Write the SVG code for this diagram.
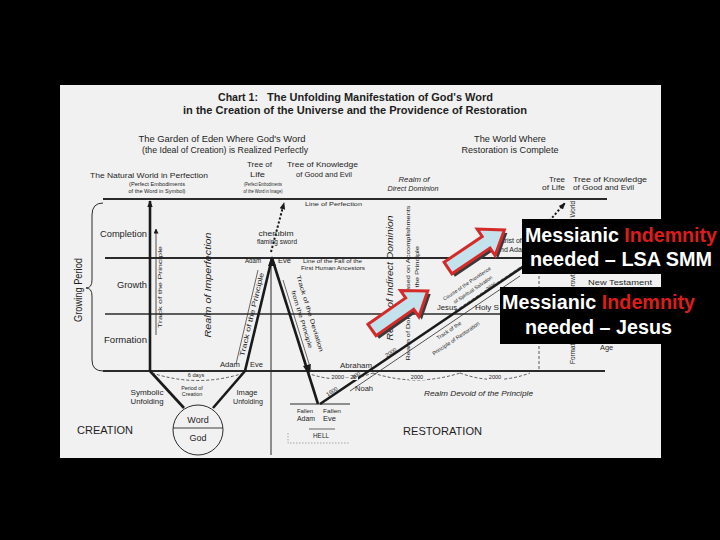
<svg xmlns="http://www.w3.org/2000/svg" width="720" height="540" viewBox="0 0 720 540">
<defs>
<style>
.t{font-family:"Liberation Sans",Arial,sans-serif;fill:#1e1e1e}
.i{font-style:italic}
.b{font-weight:bold}
.ln{stroke:#2a2a2a;fill:none}
.thk{stroke:#1a1a1a;stroke-width:2.6;fill:none}
.dash{stroke:#333;stroke-width:0.8;fill:none;stroke-dasharray:3 2}
.dot{stroke:#1a1a1a;stroke-width:2;fill:none;stroke-dasharray:2.2 2}
.bx{fill:#000}
.w{font-family:"Liberation Sans",Arial,sans-serif;font-weight:bold;font-size:19.5px;fill:#fff}
.r{fill:#dd1c1c}
.arr{fill:#c4e2ec;stroke:#d42a2a;stroke-width:3;stroke-linejoin:miter}
.sh{fill:#3a3a3a}
</style>
<marker id="ah" viewBox="0 0 10 10" refX="9" refY="5" markerWidth="5" markerHeight="5" orient="auto" markerUnits="userSpaceOnUse">
<path d="M0,0 L10,5 L0,10 z" fill="#1a1a1a"/>
</marker>
<marker id="ahs" viewBox="0 0 10 10" refX="9" refY="5" markerWidth="7" markerHeight="7" orient="auto" markerUnits="userSpaceOnUse">
<path d="M0,1 L10,5 L0,9 z" fill="#1a1a1a"/>
</marker>
<path id="blk" d="M0,-7 L46,-7 L46,-16 L68,0 L46,16 L46,7 L0,7 Z"/>
</defs>
<rect width="720" height="540" fill="#000"/>
<rect x="60" y="85" width="601" height="373" fill="#f1f1f1"/>

<g id="title">
<text class="t b" x="218" y="101" font-size="10.5" textLength="40" lengthAdjust="spacingAndGlyphs">Chart 1:</text>
<text class="t b" x="267" y="101" font-size="10.5" textLength="226" lengthAdjust="spacingAndGlyphs">The Unfolding Manifestation of God's Word</text>
<text class="t b" x="183" y="114" font-size="10.5" textLength="344" lengthAdjust="spacingAndGlyphs">in the Creation of the Universe and the Providence of Restoration</text>
</g>

<g id="top-labels">
<text class="t" x="222" y="142" font-size="8.2" text-anchor="middle" textLength="167" lengthAdjust="spacingAndGlyphs">The Garden of Eden Where God's Word</text>
<text class="t" x="225" y="153" font-size="8.2" text-anchor="middle" textLength="166" lengthAdjust="spacingAndGlyphs">(the Ideal of Creation) is Realized Perfectly</text>
<text class="t" x="510" y="142" font-size="8.2" text-anchor="middle" textLength="72" lengthAdjust="spacingAndGlyphs">The World Where</text>
<text class="t" x="510" y="153" font-size="8.2" text-anchor="middle" textLength="97" lengthAdjust="spacingAndGlyphs">Restoration is Complete</text>
<text class="t" x="90" y="178" font-size="7.6" textLength="118" lengthAdjust="spacingAndGlyphs">The Natural World in Perfection</text>
<text class="t" x="157" y="186" font-size="5.4" text-anchor="middle" textLength="56" lengthAdjust="spacingAndGlyphs">(Perfect Embodiments</text>
<text class="t" x="157" y="193" font-size="5.4" text-anchor="middle" textLength="57" lengthAdjust="spacingAndGlyphs">of the Word in Symbol)</text>
<text class="t" x="247" y="167" font-size="7.6" textLength="25" lengthAdjust="spacingAndGlyphs">Tree of</text>
<text class="t" x="250" y="177" font-size="7.6" textLength="15" lengthAdjust="spacingAndGlyphs">Life</text>
<text class="t" x="287" y="167" font-size="7.6" textLength="71" lengthAdjust="spacingAndGlyphs">Tree of Knowledge</text>
<text class="t" x="296" y="177" font-size="7.6" textLength="56" lengthAdjust="spacingAndGlyphs">of Good and Evil</text>
<text class="t" x="263" y="186" font-size="5.4" text-anchor="middle" textLength="38" lengthAdjust="spacingAndGlyphs">(Perfect Embodiments</text>
<text class="t" x="263" y="193" font-size="5.4" text-anchor="middle" textLength="39" lengthAdjust="spacingAndGlyphs">of the Word in Image)</text>
<text class="t i" x="414" y="182" font-size="7.8" text-anchor="middle" textLength="31" lengthAdjust="spacingAndGlyphs">Realm of</text>
<text class="t i" x="413" y="191" font-size="7.8" text-anchor="middle" textLength="51" lengthAdjust="spacingAndGlyphs">Direct Dominion</text>
<text class="t" x="565" y="182" font-size="7.4" text-anchor="end" textLength="16" lengthAdjust="spacingAndGlyphs">Tree</text>
<text class="t" x="565" y="190" font-size="7.4" text-anchor="end" textLength="23" lengthAdjust="spacingAndGlyphs">of Life</text>
<text class="t" x="573" y="182" font-size="7.4" textLength="74" lengthAdjust="spacingAndGlyphs">Tree of Knowledge</text>
<text class="t" x="573" y="190" font-size="7.4" textLength="61" lengthAdjust="spacingAndGlyphs">of Good and Evil</text>
<text class="t" x="305" y="206" font-size="5.8" textLength="57" lengthAdjust="spacingAndGlyphs">Line of Perfection</text>
</g>

<g id="grid">
<line class="ln" x1="103" y1="199" x2="607" y2="199" stroke-width="2"/>
<line class="ln" x1="105" y1="258" x2="605" y2="258" stroke-width="1.8"/>
<line class="ln" x1="105" y1="314" x2="605" y2="314" stroke-width="1.6"/>
<line class="ln" x1="103" y1="371" x2="605" y2="371" stroke-width="2"/>
<path class="ln" stroke-width="1" d="M103,203 Q92,203 92,215 L92,280 Q92,288 86,288 Q92,288 92,296 L92,360 Q92,371 103,371"/>
<line class="ln" x1="271" y1="258" x2="271" y2="455" stroke-width="1"/>
<line class="dash" x1="539" y1="226" x2="539" y2="371"/>
</g>

<g id="left-labels">
<text class="t" x="82" y="290" font-size="10" text-anchor="middle" transform="rotate(-90 82 290)" textLength="64" lengthAdjust="spacingAndGlyphs">Growing Period</text>
<text class="t" x="100" y="237" font-size="8.8" textLength="47" lengthAdjust="spacingAndGlyphs">Completion</text>
<text class="t" x="117" y="288" font-size="8.8" textLength="30" lengthAdjust="spacingAndGlyphs">Growth</text>
<text class="t" x="104" y="343" font-size="8.8" textLength="43" lengthAdjust="spacingAndGlyphs">Formation</text>
<text class="t" x="162" y="287" font-size="6" text-anchor="middle" transform="rotate(-90 162 287)" textLength="82" lengthAdjust="spacingAndGlyphs">Track of the Principle</text>
<text class="t i" x="211" y="285" font-size="9" text-anchor="middle" transform="rotate(-90 211 285)" textLength="105" lengthAdjust="spacingAndGlyphs">Realm of Imperfection</text>
</g>

<g id="creation">
<line class="thk" x1="150" y1="371" x2="150" y2="201" marker-end="url(#ahs)"/>
<line class="ln" x1="156" y1="335" x2="156" y2="229" stroke-width="0.8" marker-end="url(#ah)"/>
<line class="thk" x1="272" y1="258" x2="245" y2="371"/>
<line class="thk" x1="245" y1="371" x2="213" y2="408"/>
<line class="thk" x1="150" y1="371" x2="184" y2="408"/>
<line class="thk" x1="272" y1="258" x2="318" y2="404"/>
<path d="M272,256 L268,266 L276,266 Z" fill="#1a1a1a"/>
<path d="M309,375 L303,366 L311,364 Z" fill="#1a1a1a"/>
<line class="dot" x1="271" y1="252" x2="284" y2="203" marker-end="url(#ahs)"/>
<line class="ln" x1="258" y1="270" x2="236" y2="364" stroke-width="0.7"/>
<line class="ln" x1="283" y1="280" x2="311" y2="370" stroke-width="0.7"/>
<text class="t" x="276" y="236" font-size="6.8" text-anchor="middle" textLength="35" lengthAdjust="spacingAndGlyphs">cherubim</text>
<text class="t" x="277" y="244" font-size="6.8" text-anchor="middle" textLength="40" lengthAdjust="spacingAndGlyphs">flaming sword</text>
<text class="t" x="245" y="263" font-size="7.6" textLength="16" lengthAdjust="spacingAndGlyphs">Adam</text>
<text class="t" x="278" y="263" font-size="7.6" textLength="13" lengthAdjust="spacingAndGlyphs">Eve</text>
<text class="t" x="303" y="263" font-size="5.5" textLength="59" lengthAdjust="spacingAndGlyphs">Line of the Fall of the</text>
<text class="t" x="301" y="270" font-size="5.5" textLength="64" lengthAdjust="spacingAndGlyphs">First Human Ancestors</text>
<text class="t" x="254" y="315" font-size="6.8" text-anchor="middle" transform="rotate(-76.6 254 315)" textLength="86" lengthAdjust="spacingAndGlyphs">Track of the Principle</text>
<text class="t" x="308" y="314" font-size="6" text-anchor="middle" transform="rotate(73 308 314)" textLength="80" lengthAdjust="spacingAndGlyphs">Track of the Deviation</text>
<text class="t" x="300" y="320" font-size="6" text-anchor="middle" transform="rotate(73 300 320)" textLength="60" lengthAdjust="spacingAndGlyphs">from the Principle</text>
<text class="t" x="220" y="367" font-size="7.6" textLength="20" lengthAdjust="spacingAndGlyphs">Adam</text>
<text class="t" x="250" y="367" font-size="7.6" textLength="13" lengthAdjust="spacingAndGlyphs">Eve</text>
<path class="dash" d="M152,373 Q198,388 244,373"/>
<rect x="184" y="372" width="24" height="7" fill="#f1f1f1"/>
<text class="t" x="196" y="377" font-size="5.6" text-anchor="middle">6 days</text>
<text class="t" x="192" y="390" font-size="5.4" text-anchor="middle">Period of</text>
<text class="t" x="192" y="396" font-size="5.4" text-anchor="middle">Creation</text>
<text class="t" x="147" y="395" font-size="7.6" text-anchor="middle" textLength="33" lengthAdjust="spacingAndGlyphs">Symbolic</text>
<text class="t" x="147" y="404" font-size="7.6" text-anchor="middle" textLength="33" lengthAdjust="spacingAndGlyphs">Unfolding</text>
<text class="t" x="247" y="395" font-size="7.6" text-anchor="middle" textLength="21" lengthAdjust="spacingAndGlyphs">Image</text>
<text class="t" x="248" y="404" font-size="7.6" text-anchor="middle" textLength="30" lengthAdjust="spacingAndGlyphs">Unfolding</text>
<text class="t" x="77" y="434" font-size="10.5" textLength="56" lengthAdjust="spacingAndGlyphs">CREATION</text>
</g>

<g id="word-god">
<circle cx="198" cy="430" r="25" fill="none" stroke="#2a2a2a" stroke-width="1"/>
<line class="ln" x1="173" y1="428" x2="223" y2="428" stroke-width="0.9"/>
<text class="t" x="198" y="423" font-size="9" text-anchor="middle">Word</text>
<text class="t" x="198" y="441" font-size="9" text-anchor="middle">God</text>
</g>

<g id="hell">
<line class="ln" x1="290" y1="404" x2="350" y2="404" stroke-width="1"/>
<text class="t" x="297" y="413" font-size="6" textLength="16" lengthAdjust="spacingAndGlyphs">Fallen</text>
<text class="t" x="323" y="413" font-size="6" textLength="18" lengthAdjust="spacingAndGlyphs">Fallen</text>
<text class="t" x="297" y="421" font-size="7.4" textLength="18" lengthAdjust="spacingAndGlyphs">Adam</text>
<text class="t" x="323" y="421" font-size="7.4" textLength="13" lengthAdjust="spacingAndGlyphs">Eve</text>
<line class="ln" x1="309" y1="429" x2="335" y2="429" stroke-width="0.7"/>
<text class="t" x="321" y="438" font-size="6.4" text-anchor="middle">HELL</text>
<path d="M288,433 L288,443 L350,443" fill="none" stroke="#888" stroke-width="0.7" stroke-dasharray="1.5 1.5"/>
</g>

<g id="restoration">
<line class="thk" x1="320" y1="404" x2="530" y2="262"/>
<line class="ln" x1="350" y1="391" x2="520" y2="276" stroke-width="0.8"/>
<line class="dash" x1="455" y1="311" x2="522" y2="266"/>
<path class="dash" d="M307,373 Q340,385 373,373"/>
<path class="dash" d="M373,373 Q416,387 460,373"/>
<path class="dash" d="M460,373 Q495,386 530,373"/>
<rect x="330" y="374" width="28" height="6" fill="#f1f1f1"/>
<text class="t" x="344" y="379" font-size="5.6" text-anchor="middle">2000 – 20</text>
<rect x="409" y="374" width="16" height="6" fill="#f1f1f1"/>
<text class="t" x="417" y="379" font-size="5.6" text-anchor="middle">2000</text>
<rect x="487" y="374" width="16" height="6" fill="#f1f1f1"/>
<text class="t" x="495" y="379" font-size="5.6" text-anchor="middle">2000</text>
<text class="t" x="333" y="393" font-size="5.6" text-anchor="middle" transform="rotate(-34 333 393)">1600</text>
<text class="t" x="357" y="377" font-size="5.6" text-anchor="middle" transform="rotate(-34 357 377)">400</text>
<text class="t" x="392" y="354" font-size="5.6" text-anchor="middle" transform="rotate(-34 392 354)">2000</text>
<text class="t" x="340" y="368" font-size="8" textLength="32" lengthAdjust="spacingAndGlyphs">Abraham</text>
<text class="t" x="355" y="391" font-size="8" textLength="18" lengthAdjust="spacingAndGlyphs">Noah</text>
<text class="t i" x="424" y="396" font-size="7.4" textLength="109" lengthAdjust="spacingAndGlyphs">Realm Devoid of the Principle</text>
<text class="t" x="403" y="435" font-size="10.5" textLength="79" lengthAdjust="spacingAndGlyphs">RESTORATION</text>
<text class="t" x="450" y="332" font-size="5.4" text-anchor="middle" transform="rotate(-34 450 332)">Track of the</text>
<text class="t" x="457" y="340" font-size="5.4" text-anchor="middle" transform="rotate(-34 457 340)">Principle of Restoration</text>
<text class="t" x="468" y="285" font-size="5" text-anchor="middle" transform="rotate(-34 468 285)">Course of the Providence</text>
<text class="t" x="474" y="291" font-size="5" text-anchor="middle" transform="rotate(-34 474 291)">of Spiritual Salvation</text>
<text class="t" x="492" y="288" font-size="5" text-anchor="middle" transform="rotate(-34 492 288)">2000</text>
<text class="t" x="437" y="310" font-size="7.4" textLength="20" lengthAdjust="spacingAndGlyphs">Jesus</text>
<text class="t" x="475" y="310" font-size="7.4" textLength="24" lengthAdjust="spacingAndGlyphs">Holy S</text>
<text class="t i" x="393" y="278" font-size="9.5" text-anchor="middle" transform="rotate(-90 393 278)" textLength="125" lengthAdjust="spacingAndGlyphs">Realm of Indirect Dominion</text>
<text class="t" x="410" y="283" font-size="6" text-anchor="middle" transform="rotate(-90 410 283)" textLength="155" lengthAdjust="spacingAndGlyphs">Realm of Dominion Based on Accomplishments</text>
<text class="t" x="419" y="271" font-size="6" text-anchor="middle" transform="rotate(-90 419 271)" textLength="50" lengthAdjust="spacingAndGlyphs">of the Principle</text>
</g>

<g id="right-column">
<line class="dot" x1="530" y1="243" x2="565" y2="203" marker-end="url(#ahs)"/>
<text class="t" x="575" y="201" font-size="6.4" text-anchor="end" transform="rotate(-90 575 201)">Spiritual World</text>
<text class="t" x="500" y="243" font-size="7">Arist of</text>
<text class="t" x="500" y="252" font-size="7">nd Adam</text>
<text class="t" x="575" y="281" font-size="6.4" text-anchor="middle" transform="rotate(-90 575 281)">Growth</text>
<text class="t" x="588" y="285" font-size="7.6" textLength="64" lengthAdjust="spacingAndGlyphs">New Testament</text>
<text class="t" x="575" y="364" font-size="6.4" transform="rotate(-90 575 364)">Formation Stage</text>
<text class="t" x="600" y="350" font-size="7.4">Age</text>
</g>

<g id="arrow-lower">
<use href="#blk" class="sh" transform="translate(375,333) rotate(-35)"/>
<use href="#blk" class="arr" transform="translate(372,330) rotate(-35)"/>
</g>
<g id="arrow-upper">
<use href="#blk" class="sh" transform="translate(451,271) rotate(-34)"/>
<use href="#blk" class="arr" transform="translate(448,268) rotate(-34)"/>
</g>

<g id="box-lsa">
<rect class="bx" x="522" y="219" width="198" height="55"/>
<text class="w" x="525" y="242" textLength="192" lengthAdjust="spacingAndGlyphs">Messianic <tspan class="r">Indemnity</tspan></text>
<text class="w" x="530" y="266" textLength="182" lengthAdjust="spacingAndGlyphs">needed – LSA SMM</text>
</g>
<g id="box-jesus">
<rect class="bx" x="500" y="287" width="220" height="57"/>
<text class="w" x="502" y="309" textLength="193" lengthAdjust="spacingAndGlyphs">Messianic <tspan class="r">Indemnity</tspan></text>
<text class="w" x="525" y="334" textLength="147" lengthAdjust="spacingAndGlyphs">needed – Jesus</text>
</g>
</svg>
